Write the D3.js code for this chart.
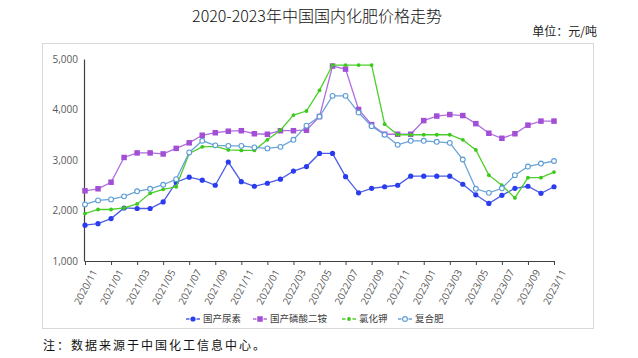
<!DOCTYPE html>
<html><head><meta charset="utf-8">
<script src="https://cdn.jsdelivr.net/npm/d3@7"></script>
<style>
body{margin:0;background:#fff;}
svg{display:block;}
</style></head>
<body>
<svg id="c" width="638" height="358"></svg>
<script>
const months = ["2020/11","2020/12","2021/01","2021/02","2021/03","2021/04","2021/05","2021/06","2021/07","2021/08","2021/09","2021/10","2021/11","2021/12","2022/01","2022/02","2022/03","2022/04","2022/05","2022/06","2022/07","2022/08","2022/09","2022/10","2022/11","2022/12","2023/01","2023/02","2023/03","2023/04","2023/05","2023/06","2023/07","2023/08","2023/09","2023/10","2023/11"];
const urea = [1710,1740,1840,2050,2040,2040,2170,2560,2660,2600,2500,2960,2570,2480,2540,2620,2780,2870,3130,3130,2670,2350,2440,2470,2500,2680,2680,2680,2680,2520,2310,2140,2300,2440,2480,2340,2470];
const dap = [2390,2430,2560,3050,3140,3140,3120,3230,3340,3490,3540,3570,3580,3520,3510,3580,3580,3590,3860,4860,4800,4000,3700,3510,3510,3510,3780,3870,3900,3880,3720,3530,3430,3520,3690,3770,3770];
const potash = [1940,2020,2020,2050,2130,2340,2420,2470,3130,3260,3270,3200,3190,3190,3400,3590,3890,3970,4380,4880,4880,4880,4880,3710,3500,3500,3500,3500,3500,3400,3200,2700,2500,2250,2650,2650,2760];
const compound = [2120,2200,2220,2280,2380,2430,2510,2620,3150,3380,3290,3280,3280,3250,3230,3260,3400,3680,3860,4270,4270,3940,3670,3500,3300,3380,3380,3360,3340,3010,2430,2350,2440,2700,2870,2930,2980];
const seriesNames = ["国产尿素","国产磷酸二铵","氯化钾","复合肥"];
const yTicks = [1000,2000,3000,4000,5000];

const svg = d3.select("#c");
const sans = "'Open Sans','Noto Sans',sans-serif";
const cjk = "'Noto Sans CJK SC',sans-serif";

// title and notes
svg.append("text").attr("x",317).attr("y",22).attr("text-anchor","middle")
  .attr("font-family",cjk).attr("font-size",16).attr("font-weight",300).attr("fill","#111")
  .text("2020-2023年中国国内化肥价格走势");
svg.append("text").attr("x",597).attr("y",36).attr("text-anchor","end")
  .attr("font-family",cjk).attr("font-size",12).attr("fill","#222")
  .text("单位：元/吨");
svg.append("text").attr("x",43).attr("y",350)
  .attr("font-family",cjk).attr("font-size",12).attr("letter-spacing","2px").attr("fill","#111")
  .text("注：数据来源于中国化工信息中心。");

// frame
svg.append("rect").attr("x",42.5).attr("y",43.5).attr("width",551).attr("height",285)
  .attr("fill","none").attr("stroke","#d9d9d9");

const x = d3.scalePoint().domain(months).range([85,554]);
const y = d3.scaleLinear().domain([1000,5000]).range([261,59]);

// y axis
const ya = svg.append("g").attr("transform","translate(84,0)")
  .call(d3.axisLeft(y).tickValues(yTicks).tickSize(0).tickPadding(6).tickFormat(d3.format(",")));
ya.select(".domain").attr("stroke","#404040").attr("stroke-width",1.2);
ya.selectAll("text").attr("font-family",sans).attr("font-size",10).attr("fill","#595959");

// x axis
const xa = svg.append("g").attr("transform","translate(0,261)")
  .call(d3.axisBottom(x).tickValues(months.filter((d,i)=>i%2===0)).tickSize(4).tickSizeOuter(0));
xa.select(".domain").attr("stroke","#404040").attr("stroke-width",1.2);
xa.selectAll(".tick line").attr("stroke","#404040");
xa.selectAll("text").attr("font-family",sans).attr("font-size",10).attr("fill","#595959")
  .attr("text-anchor","end").attr("dy","0.35em")
  .attr("transform","translate(3,6) rotate(-62)");

const line = d3.line().x((d,i)=>x(months[i])).y(d=>y(d));

const specs = [
  {data:urea, color:"#3344e6", lineColor:"#4d5ce6", shape:"circle", r:2.6, fill:"#2a3cf0"},
  {data:dap, color:"#a24fd6", lineColor:"#b06ee0", shape:"square", s:5.5, fill:"#a24fd6"},
  {data:potash, color:"#44c822", lineColor:"#4ccf2a", shape:"circle", r:1.9, fill:"#3cc81c"},
  {data:compound, color:"#5b9bd5", lineColor:"#6aa3d8", shape:"open", r:2.4, fill:"#fff"}
];

function drawMarker(g, s, cx, cy){
  if(s.shape==="square"){
    g.append("rect").attr("x",cx-s.s/2).attr("y",cy-s.s/2).attr("width",s.s).attr("height",s.s).attr("fill",s.fill);
  } else if(s.shape==="open"){
    g.append("circle").attr("cx",cx).attr("cy",cy).attr("r",s.r).attr("fill","#fff").attr("stroke",s.color).attr("stroke-width",1.1);
  } else {
    g.append("circle").attr("cx",cx).attr("cy",cy).attr("r",s.r).attr("fill",s.fill);
  }
}

specs.forEach(s=>{
  const g = svg.append("g");
  g.append("path").attr("d",line(s.data)).attr("fill","none").attr("stroke",s.lineColor).attr("stroke-width",1.3);
  s.data.forEach((v,i)=>drawMarker(g,s,x(months[i]),y(v)));
});

// legend
const legX = [186, 253, 342, 398];
const lg = svg.append("g");
specs.forEach((s,k)=>{
  const lx = legX[k], ly = 319;
  lg.append("line").attr("x1",lx).attr("x2",lx+14).attr("y1",ly).attr("y2",ly)
    .attr("stroke",s.lineColor).attr("stroke-width",1.5).attr("stroke-dasharray","3.5,7,3.5");
  drawMarker(lg,s,lx+7,ly);
  lg.append("text").attr("x",lx+17).attr("y",ly).attr("dy","0.35em")
    .attr("font-family",cjk).attr("font-size",9.5).attr("fill","#404040").text(seriesNames[k]);
});
</script>
</body></html>
